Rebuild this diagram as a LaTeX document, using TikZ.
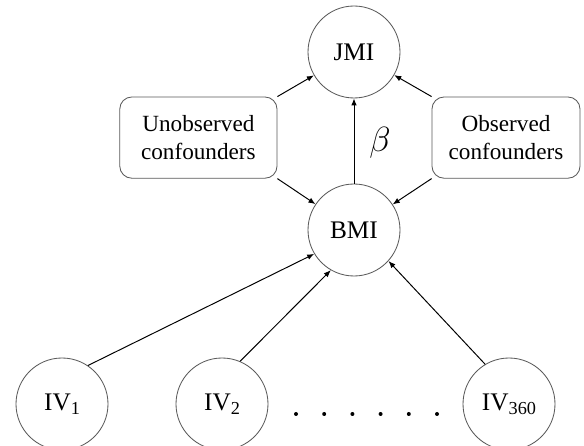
\documentclass[tikz,border=0pt]{standalone}
\usepackage{fontspec}
\setmainfont{Liberation Serif}
\usetikzlibrary{arrows.meta}

\newcommand{\ivsub}[1]{\raisebox{-0.35ex}{\fontsize{13}{14}\selectfont #1}}

\begin{document}
\begin{tikzpicture}[
        var/.style={circle,draw=black!65,line width=0.6pt,minimum size=2.3cm,inner sep=0pt,font=\fontsize{18}{20}\selectfont},
        conf/.style={rectangle,rounded corners=0.3cm,draw=black!65,line width=0.6pt,minimum height=2.03cm,align=center,font=\fontsize{16.5}{19.5}\selectfont},
        edge/.style={-{Latex[length=5pt,width=4pt]},line width=0.7pt}
    ]
        \useasboundingbox (0,0) rectangle (14.6,-11.15);
        \node[var] (JMI) at (8.85,-1.3) {JMI};
        \node[var] (BMI) at (8.85,-5.75) {BMI};
        \node[conf,minimum width=3.93cm] (UC) at (4.96,-3.44) {Unobserved\\confounders};
        \node[conf,minimum width=3.7cm] (OC) at (12.65,-3.44) {Observed\\confounders};
        \node[var] (IV1) at (1.55,-10.1) {IV\ivsub{1}};
        \node[var] (IV2) at (5.55,-10.1) {IV\ivsub{2}};
        \node[var] (IVn) at (12.725,-10.1) {IV\ivsub{360}};
        \node[font=\fontsize{23}{26}\selectfont] (beta) at (9.5,-3.575) {$\beta$};
        \foreach \i in {0,...,5}
            \fill (7.4+\i*0.705,-10.35) circle (0.05);
        \draw[edge] (BMI) -- (JMI);
        \draw[edge] (UC.north east) -- (JMI);
        \draw[edge] (UC.south east) -- (BMI);
        \draw[edge] (OC.north west) -- (JMI);
        \draw[edge] (OC.south west) -- (BMI);
        \draw[edge] (IV1.56) -- (BMI.211);
        \draw[edge] (IV2.67) -- (BMI.240);
        \draw[edge] (IVn.121) -- (BMI.318);
    \end{tikzpicture}
\end{document}
